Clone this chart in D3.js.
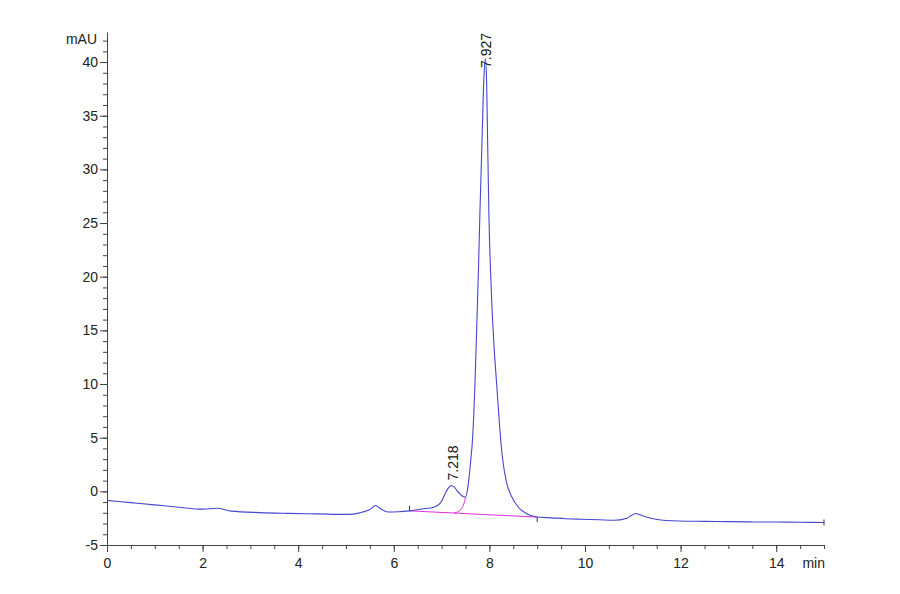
<!DOCTYPE html>
<html>
<head>
<meta charset="utf-8">
<script src="https://cdn.jsdelivr.net/npm/d3@7"></script>
<style>
	body{margin:0;background:#fff;}
	svg{display:block;}
</style>
</head>
<body>
<div class="chrom"></div>
<script>
// chromatogram trace (min, mAU)
var traceTime=[0,0.5,1.0,1.5,2.0,2.3,2.6,3.2,3.8,4.4,5.0,5.15,5.35,5.5,5.62,5.72,5.87,6.1,6.33,6.6,6.85,6.95,7.02,7.08,7.14,7.2,7.26,7.33,7.40,7.46,7.5,
	7.54,7.575,7.61,7.64,7.67,7.70,7.735,7.77,7.80,7.85,7.885,7.915,7.94,7.96,7.99,8.04,8.10,8.15,8.205,8.24,8.28,8.35,8.47,8.6,8.78,8.99,
	9.3,9.6,9.9,10.3,10.6,10.88,10.97,11.06,11.25,11.48,11.96,12.5,13.0,13.5,14.0,14.5,15.0];
var traceSignal=[-0.84,-1.05,-1.26,-1.48,-1.66,-1.58,-1.84,-1.98,-2.05,-2.1,-2.15,-2.12,-1.93,-1.7,-1.32,-1.62,-1.92,-1.9,-1.82,-1.65,-1.45,-1.2,-0.75,-0.15,0.3,0.55,0.42,0.02,-0.3,-0.5,-0.53,
	0.1,1.3,2.9,4.4,6.8,10.3,15.3,20.5,25.7,33.4,38.5,40.3,38.5,33.4,25.7,18.7,13.3,10.1,6.6,4.6,2.9,1.0,-0.53,-1.46,-2.08,-2.39,
	-2.47,-2.55,-2.6,-2.65,-2.7,-2.5,-2.25,-2.07,-2.35,-2.6,-2.77,-2.8,-2.82,-2.85,-2.86,-2.88,-2.9];

// integration baseline and skim under the small peak
var baseTime=[6.33,9.0];
var baseSignal=[-1.82,-2.4];
var skimTime=[7.26,7.30,7.36,7.41,7.45,7.48,7.5];
var skimSignal=[-2.01,-1.97,-1.86,-1.66,-1.35,-0.95,-0.53];

// peak retention times
var peakTimes=[7.218,7.927];
var peakLabels=['7.218','7.927'];

// axis ticks
var xMajor=[0,2,4,6,8,10,12,14];
var xLabels=['0','2','4','6','8','10','12','14'];
var yMajor=[-5,0,5,10,15,20,25,30,35,40];
var yLabels=['-5','0','5','10','15','20','25','30','35','40'];
var xUnit='min';
var yUnit='mAU';

var width=900;
var height=594;
var padLeft=107,padRight=824,padTop=32,padBottom=545;

var svg=d3.select('div.chrom')
		.append('svg')
		.attr('width',width)
		.attr('height',height);

var xScale=d3.scaleLinear().domain([0,15]).range([padLeft,padRight]);
var yScale=d3.scaleLinear().domain([-5,42.8]).range([padBottom,padTop]);

var tickFont="'Liberation Sans Narrow','Liberation Sans',Arial,sans-serif";
var axisColor='#444';

var xMinor=d3.range(0,15.01,0.5);
var yMinor=d3.range(-5,42.01,1);

// x axis
var gx=svg.append('g').attr('transform','translate(0,'+padBottom+')');
gx.append('g')
	.call(d3.axisBottom(xScale).tickValues(xMinor).tickSize(4).tickFormat('').tickSizeOuter(0));
gx.append('g')
	.call(d3.axisBottom(xScale).tickValues(xMajor).tickSize(7).tickPadding(6)
		.tickFormat(function(d,i){return xLabels[i];}))
	.call(function(g){g.select('.domain').remove();});
gx.selectAll('line,path').attr('stroke',axisColor);
gx.selectAll('text')
	.attr('font-family',tickFont)
	.attr('font-size','14px')
	.attr('fill','#222');
gx.append('text')
	.attr('x',padRight+1)
	.attr('y',23)
	.attr('text-anchor','end')
	.attr('font-family',tickFont)
	.attr('font-size','14px')
	.attr('fill','#222')
	.text(xUnit);

// y axis
var gy=svg.append('g').attr('transform','translate('+padLeft+',0)');
gy.append('g')
	.call(d3.axisLeft(yScale).tickValues(yMinor).tickSize(4).tickFormat('').tickSizeOuter(0));
gy.append('g')
	.call(d3.axisLeft(yScale).tickValues(yMajor).tickSize(7).tickPadding(2)
		.tickFormat(function(d,i){return yLabels[i];}))
	.call(function(g){g.select('.domain').remove();});
gy.selectAll('line,path').attr('stroke',axisColor);
gy.selectAll('text')
	.attr('font-family',tickFont)
	.attr('font-size','14px')
	.attr('fill','#222');
gy.append('text')
	.attr('x',-10)
	.attr('y',padTop+7)
	.attr('dy','0.35em')
	.attr('text-anchor','end')
	.attr('font-family',tickFont)
	.attr('font-size','14px')
	.attr('fill','#222')
	.text(yUnit);

var line=d3.line()
	.x(function(d){return xScale(d[0]);})
	.y(function(d){return yScale(d[1]);})
	.curve(d3.curveMonotoneX);

var trace=d3.zip(traceTime,traceSignal);
var base=d3.zip(baseTime,baseSignal);
var skim=d3.zip(skimTime,skimSignal);

// baseline (magenta)
svg.append('path')
	.datum(base)
	.attr('d',d3.line().x(function(d){return xScale(d[0]);}).y(function(d){return yScale(d[1]);}))
	.attr('fill','none')
	.attr('stroke','#e030e0')
	.attr('stroke-width',1);
svg.append('path')
	.datum(skim)
	.attr('d',line)
	.attr('fill','none')
	.attr('stroke','#e030e0')
	.attr('stroke-width',1);

// event marks at baseline start / end and trace end
var marks=[[baseTime[0],baseSignal[0],-5,0],[baseTime[1],baseSignal[1],0,5],
	[traceTime[traceTime.length-1],traceSignal[traceSignal.length-1],-3,3]];
svg.selectAll('.mark')
	.data(marks)
	.enter()
	.append('line')
	.attr('class','mark')
	.attr('x1',function(d){return xScale(d[0]);})
	.attr('x2',function(d){return xScale(d[0]);})
	.attr('y1',function(d){return yScale(d[1])+d[2];})
	.attr('y2',function(d){return yScale(d[1])+d[3];})
	.attr('stroke','#333')
	.attr('stroke-width',1);

// signal trace
svg.append('path')
	.datum(trace)
	.attr('d',line)
	.attr('fill','none')
	.attr('stroke','#4646d2')
	.attr('stroke-width',1.1);

// peak labels, rotated, kept inside the plot top
peakTimes.forEach(function(rt,i){
	var near=trace.filter(function(d){return Math.abs(d[0]-rt)<0.06;});
	var apex=d3.max(near,function(d){return d[1];});
	var px=xScale(rt)+5.5;
	var t=svg.append('text')
		.attr('font-family',"'Liberation Sans',Arial,sans-serif")
		.attr('font-size','14px')
		.attr('fill','#111')
		.text(peakLabels[i]);
	var len=t.node().getComputedTextLength();
	var py=Math.max(yScale(apex)-5,padTop+len+1);
	t.attr('transform','translate('+px+','+py+') rotate(-90)');
});
</script>
</body>
</html>
